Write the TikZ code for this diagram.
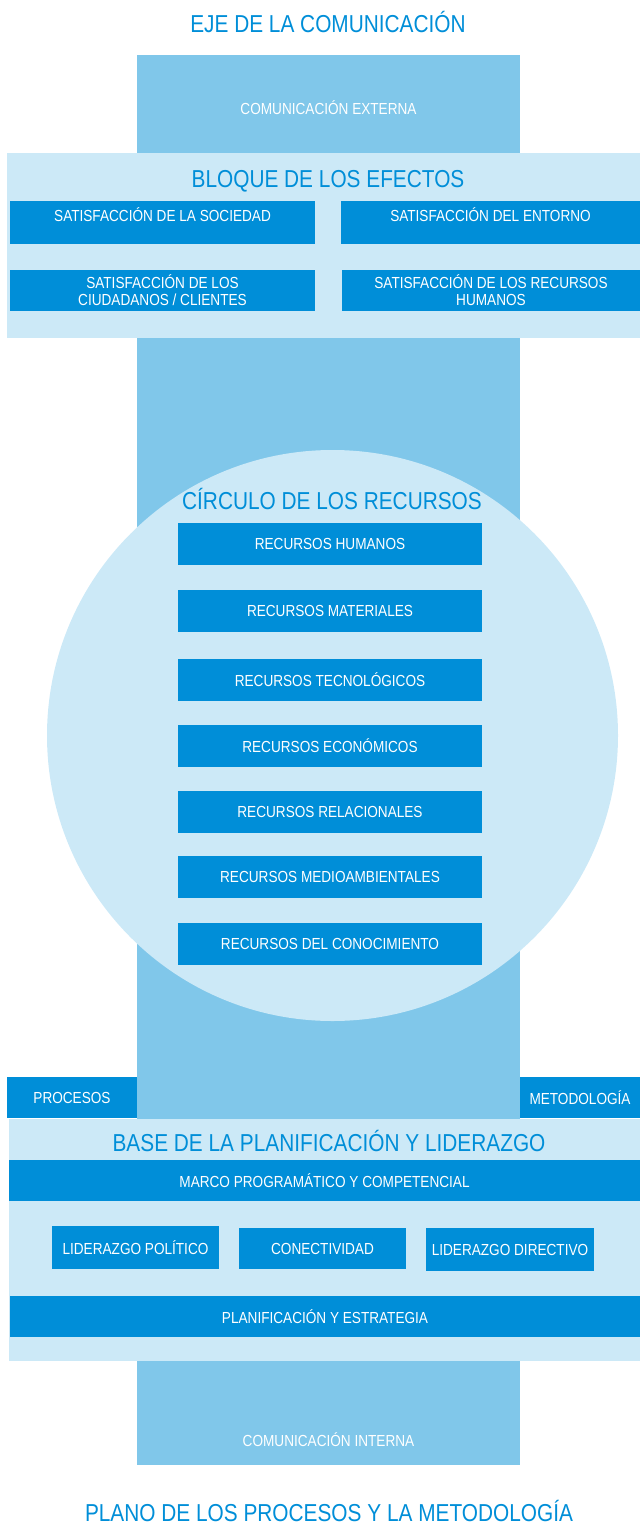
\documentclass[tikz,border=0pt]{standalone}
\usepackage{fontspec}
\setmainfont{Liberation Sans}[FakeStretch=0.85]
\definecolor{azul}{RGB}{0,142,216}
\definecolor{celeste}{RGB}{128,199,234}
\definecolor{palido}{RGB}{204,233,247}

\begin{document}
\begin{tikzpicture}[x=1pt, y=-1pt]

\tikzset{fondo/.style={fill=palido, shape=rectangle, inner sep=0}}
\tikzset{eje/.style={fill=celeste, shape=rectangle, inner sep=0}}
\tikzset{caja/.style={fill=azul, shape=rectangle, inner sep=0, text=white, align=center, font=\fontsize{16}{17}\selectfont}}
\tikzset{arriba/.style={text height=11pt, text depth=12.6pt}}
\tikzset{titulo/.style={text=azul, font=\fontsize{24.5}{28}\selectfont}}
\tikzset{rotulo/.style={text=white, font=\fontsize{16}{17}\selectfont}}
\tikzset{recurso/.style={caja, minimum width=304, minimum height=42}}

\useasboundingbox (0,0) rectangle (640,1525);

% eje de la comunicacion
\node[titulo] (ejetit) at (328,22) {EJE DE LA COMUNICACIÓN};
\node[eje, minimum width=383, minimum height=1410] (eje) at (328.5,760) {};
\node[rotulo] (externa) at (328.5,108) {COMUNICACIÓN EXTERNA};
\node[rotulo] (interna) at (328.5,1440) {COMUNICACIÓN INTERNA};

% bloque de los efectos
\node[fondo, minimum width=633, minimum height=185] (efectos) at (323.5,245.5) {};
\node[titulo] (efectostit) at (328,181) {BLOQUE DE LOS EFECTOS};
\node[caja, arriba, minimum width=305, minimum height=43] (sociedad) at (162.5,222.5) {SATISFACCIÓN DE LA SOCIEDAD};
\node[caja, arriba, minimum width=299, minimum height=43] (entorno) at (490.5,222.5) {SATISFACCIÓN DEL ENTORNO};
\node[caja, minimum width=305, minimum height=41] (ciudadanos) at (162.5,290.5) {SATISFACCIÓN DE LOS\\CIUDADANOS / CLIENTES};
\node[caja, minimum width=298, minimum height=41] (humanos) at (491,290) {SATISFACCIÓN DE LOS RECURSOS\\HUMANOS};

% circulo de los recursos
\node[fill=palido, shape=circle, inner sep=0, minimum size=571] (circulo) at (332.5,735.5) {};
\node[titulo] (circulotit) at (332,499) {CÍRCULO DE LOS RECURSOS};
\node[recurso] (rh) at (330,543.5) {RECURSOS HUMANOS};
\node[recurso] (rm) at (330,610.5) {RECURSOS MATERIALES};
\node[recurso] (rt) at (330,679.5) {RECURSOS TECNOLÓGICOS};
\node[recurso] (re) at (330,745.5) {RECURSOS ECONÓMICOS};
\node[recurso] (rr) at (330,811.5) {RECURSOS RELACIONALES};
\node[recurso] (ra) at (330,877) {RECURSOS MEDIOAMBIENTALES};
\node[recurso] (rc) at (330,943.5) {RECURSOS DEL CONOCIMIENTO};

% plano de los procesos y la metodologia
\node[caja, minimum width=130, minimum height=41] (procesos) at (72,1097.5) {PROCESOS};
\node[caja, minimum width=120, minimum height=41] (metodologia) at (580,1097.5) {METODOLOGÍA};

% base de la planificacion y liderazgo
\node[fondo, minimum width=631, minimum height=242] (base) at (324.5,1240) {};
\node[titulo] (basetit) at (329,1141) {BASE DE LA PLANIFICACIÓN Y LIDERAZGO};
\node[caja, minimum width=631, minimum height=41] (marco) at (324.5,1180.5) {MARCO PROGRAMÁTICO Y COMPETENCIAL};
\node[caja, minimum width=167, minimum height=43] (politico) at (135.5,1247.5) {LIDERAZGO POLÍTICO};
\node[caja, minimum width=167, minimum height=41] (conectividad) at (322.5,1248.5) {CONECTIVIDAD};
\node[caja, minimum width=168, minimum height=43] (directivo) at (510,1249.5) {LIDERAZGO DIRECTIVO};
\node[caja, minimum width=630, minimum height=41] (planificacion) at (325,1316.5) {PLANIFICACIÓN Y ESTRATEGIA};

\node[titulo] (planotit) at (329,1511) {PLANO DE LOS PROCESOS Y LA METODOLOGÍA};

\end{tikzpicture}
\end{document}
